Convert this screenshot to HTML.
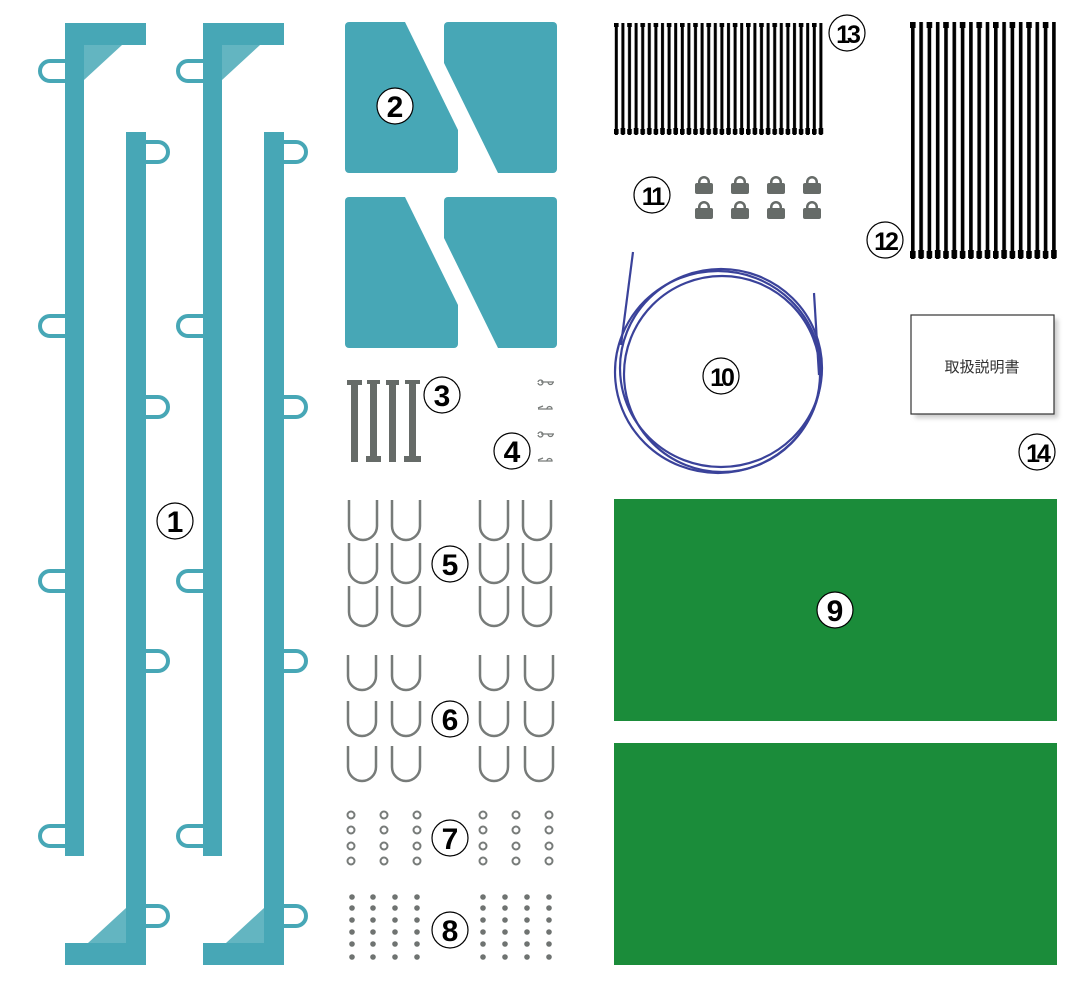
<!DOCTYPE html>
<html><head><meta charset="utf-8"><style>
html,body{margin:0;padding:0;background:#fff;}
svg{display:block;}
.lbl{font-family:"Liberation Sans",sans-serif;font-weight:bold;font-size:30px;text-anchor:middle;}
</style></head><body>
<svg width="1091" height="989" viewBox="0 0 1091 989" xmlns="http://www.w3.org/2000/svg">
<defs>
<g id="rail">
  <rect x="65" y="23" width="19" height="833" fill="#47a7b6"/>
  <rect x="65" y="23" width="81" height="22" fill="#47a7b6"/>
  <polygon points="84,45 122,45 84,80" fill="#63b5c1"/>
  <g fill="none" stroke="#47a7b6" stroke-width="4">
    <path d="M65,61 H50 a10,10 0 0 0 0,20 H65"/>
    <path d="M65,316 H50 a10,10 0 0 0 0,20 H65"/>
    <path d="M65,571 H50 a10,10 0 0 0 0,20 H65"/>
    <path d="M65,826 H50 a10,10 0 0 0 0,20 H65"/>
  </g>
  <rect x="126" y="132" width="20" height="833" fill="#47a7b6"/>
  <rect x="65" y="943" width="81" height="22" fill="#47a7b6"/>
  <polygon points="126,943 88,943 126,908" fill="#63b5c1"/>
  <g fill="none" stroke="#47a7b6" stroke-width="4">
    <path d="M146,142 H158 a10,10 0 0 1 0,20 H146"/>
    <path d="M146,397 H158 a10,10 0 0 1 0,20 H146"/>
    <path d="M146,651 H158 a10,10 0 0 1 0,20 H146"/>
    <path d="M146,906 H158 a10,10 0 0 1 0,20 H146"/>
  </g>
</g>
<g id="plates">
  <path d="M349,22 H405 L458,130 V169 a4,4 0 0 1 -4,4 H349 a4,4 0 0 1 -4,-4 V26 a4,4 0 0 1 4,-4Z" fill="#47a7b6"/>
  <path d="M448,22 H553 a4,4 0 0 1 4,4 V169 a4,4 0 0 1 -4,4 H498 L444,63 V26 a4,4 0 0 1 4,-4Z" fill="#47a7b6"/>
</g>
<g id="lbl"><circle r="18" fill="#fff" stroke="#000" stroke-width="1.2"/></g>
<path id="u5" d="M0,0 V26 a14,14 0 0 0 28,0 V0" fill="none" stroke="#777b79" stroke-width="2.5"/>
<path id="u6" d="M0,0 V21 a14,14 0 0 0 28,0 V0" fill="none" stroke="#777b79" stroke-width="2.5"/>
<g id="lock" fill="#666b68">
  <path d="M3,9 V7 a6,6 0 0 1 12,0 V9 H12.5 V7 a3.5,3.5 0 0 0 -7,0 V9Z"/>
  <rect x="0" y="8" width="18" height="11" rx="2"/>
</g>
<filter id="bl"><feGaussianBlur stdDeviation="2.5"/></filter>
<pattern id="p13" x="614" y="0" width="13.2" height="200" patternUnits="userSpaceOnUse">
  <rect x="0.8" y="23" width="3" height="112"/><rect x="0" y="23" width="4.6" height="4"/><rect x="0" y="129" width="4.6" height="5"/>
  <rect x="7.4" y="23" width="3" height="112"/><rect x="6.6" y="128" width="4.6" height="6"/>
</pattern>
<pattern id="p12" x="910" y="0" width="16.6" height="300" patternUnits="userSpaceOnUse">
  <rect x="1" y="22" width="3.6" height="237"/><rect x="0" y="22" width="5.6" height="6"/><rect x="0" y="251" width="5.6" height="7"/>
  <rect x="9.3" y="22" width="3.6" height="237"/><rect x="8.3" y="250" width="5.6" height="8"/>
</pattern>
</defs>

<use href="#rail"/>
<use href="#rail" x="138"/>

<use href="#plates"/>
<use href="#plates" y="175"/>

<g fill="#666b68">
  <rect x="351" y="380" width="7" height="82"/><rect x="347" y="380" width="15" height="5"/>
  <rect x="370" y="380" width="7" height="82"/><rect x="367" y="380" width="13" height="4"/><rect x="366" y="456" width="15" height="6"/>
  <rect x="389" y="380" width="7" height="82"/><rect x="386" y="380" width="13" height="5"/>
  <rect x="409" y="380" width="7" height="82"/><rect x="405" y="380" width="15" height="4"/><rect x="404" y="456" width="17" height="6"/>
</g>
<g fill="none" stroke="#777b79" stroke-width="1.3">
  <path d="M538,382 a2.5,2.5 0 1 1 0,1 M541,382 H554 M548,382 a2.5,2.5 0 1 0 5,0"/>
  <path d="M538,408 L543,406 M538,409 H552 a2.5,2.5 0 1 0 -5,0"/>
  <path d="M538,434 a2.5,2.5 0 1 1 0,1 M541,434 H554 M548,434 a2.5,2.5 0 1 0 5,0"/>
  <path d="M538,460 L543,458 M538,461 H552 a2.5,2.5 0 1 0 -5,0"/>
</g>

<g>
<use href="#u5" x="349" y="500"/><use href="#u5" x="392" y="500"/><use href="#u5" x="480" y="500"/><use href="#u5" x="523" y="500"/>
<use href="#u5" x="349" y="543"/><use href="#u5" x="392" y="543"/><use href="#u5" x="480" y="543"/><use href="#u5" x="523" y="543"/>
<use href="#u5" x="349" y="586"/><use href="#u5" x="392" y="586"/><use href="#u5" x="480" y="586"/><use href="#u5" x="523" y="586"/>
</g>
<g>
<use href="#u6" x="348" y="655"/><use href="#u6" x="392" y="655"/><use href="#u6" x="480" y="655"/><use href="#u6" x="525" y="655"/>
<use href="#u6" x="348" y="701"/><use href="#u6" x="392" y="701"/><use href="#u6" x="480" y="701"/><use href="#u6" x="525" y="701"/>
<use href="#u6" x="348" y="746"/><use href="#u6" x="392" y="746"/><use href="#u6" x="480" y="746"/><use href="#u6" x="525" y="746"/>
</g>

<g fill="none" stroke="#777b79" stroke-width="2">
<circle cx="351" cy="815" r="3.5"/><circle cx="351" cy="830" r="3.5"/><circle cx="351" cy="846" r="3.5"/><circle cx="351" cy="861" r="3.5"/>
<circle cx="384" cy="815" r="3.5"/><circle cx="384" cy="830" r="3.5"/><circle cx="384" cy="846" r="3.5"/><circle cx="384" cy="861" r="3.5"/>
<circle cx="417" cy="815" r="3.5"/><circle cx="417" cy="830" r="3.5"/><circle cx="417" cy="846" r="3.5"/><circle cx="417" cy="861" r="3.5"/>
<circle cx="483" cy="815" r="3.5"/><circle cx="483" cy="830" r="3.5"/><circle cx="483" cy="846" r="3.5"/><circle cx="483" cy="861" r="3.5"/>
<circle cx="516" cy="815" r="3.5"/><circle cx="516" cy="830" r="3.5"/><circle cx="516" cy="846" r="3.5"/><circle cx="516" cy="861" r="3.5"/>
<circle cx="549" cy="815" r="3.5"/><circle cx="549" cy="830" r="3.5"/><circle cx="549" cy="846" r="3.5"/><circle cx="549" cy="861" r="3.5"/>
</g>

<g fill="#6f7371">
<circle cx="352" cy="897" r="2.8"/><circle cx="352" cy="908" r="2.8"/><circle cx="352" cy="920" r="2.8"/><circle cx="352" cy="932" r="2.8"/><circle cx="352" cy="944" r="2.8"/><circle cx="352" cy="957" r="2.8"/>
<circle cx="373" cy="897" r="2.8"/><circle cx="373" cy="908" r="2.8"/><circle cx="373" cy="920" r="2.8"/><circle cx="373" cy="932" r="2.8"/><circle cx="373" cy="944" r="2.8"/><circle cx="373" cy="957" r="2.8"/>
<circle cx="395" cy="897" r="2.8"/><circle cx="395" cy="908" r="2.8"/><circle cx="395" cy="920" r="2.8"/><circle cx="395" cy="932" r="2.8"/><circle cx="395" cy="944" r="2.8"/><circle cx="395" cy="957" r="2.8"/>
<circle cx="417" cy="897" r="2.8"/><circle cx="417" cy="908" r="2.8"/><circle cx="417" cy="920" r="2.8"/><circle cx="417" cy="932" r="2.8"/><circle cx="417" cy="944" r="2.8"/><circle cx="417" cy="957" r="2.8"/>
<circle cx="483" cy="897" r="2.8"/><circle cx="483" cy="908" r="2.8"/><circle cx="483" cy="920" r="2.8"/><circle cx="483" cy="932" r="2.8"/><circle cx="483" cy="944" r="2.8"/><circle cx="483" cy="957" r="2.8"/>
<circle cx="505" cy="897" r="2.8"/><circle cx="505" cy="908" r="2.8"/><circle cx="505" cy="920" r="2.8"/><circle cx="505" cy="932" r="2.8"/><circle cx="505" cy="944" r="2.8"/><circle cx="505" cy="957" r="2.8"/>
<circle cx="527" cy="897" r="2.8"/><circle cx="527" cy="908" r="2.8"/><circle cx="527" cy="920" r="2.8"/><circle cx="527" cy="932" r="2.8"/><circle cx="527" cy="944" r="2.8"/><circle cx="527" cy="957" r="2.8"/>
<circle cx="549" cy="897" r="2.8"/><circle cx="549" cy="908" r="2.8"/><circle cx="549" cy="920" r="2.8"/><circle cx="549" cy="932" r="2.8"/><circle cx="549" cy="944" r="2.8"/><circle cx="549" cy="957" r="2.8"/>
</g>

<rect x="614" y="20" width="210" height="118" fill="url(#p13)"/>
<rect x="910" y="20" width="148" height="242" fill="url(#p12)"/>

<use href="#lock" x="695" y="175"/><use href="#lock" x="731" y="175"/><use href="#lock" x="767" y="175"/><use href="#lock" x="803" y="175"/>
<use href="#lock" x="695" y="200"/><use href="#lock" x="731" y="200"/><use href="#lock" x="767" y="200"/><use href="#lock" x="803" y="200"/>

<g fill="none" stroke="#3a429a" stroke-width="2.2">
  <ellipse cx="721" cy="368" rx="101" ry="99"/>
  <ellipse cx="718" cy="372" rx="103" ry="101"/>
  <ellipse cx="722" cy="374" rx="98" ry="98"/>
  <path d="M633,252 L621,345"/>
  <path d="M814,293 L819,375"/>
</g>

<rect x="915" y="319" width="143" height="99" fill="#999" opacity="0.5" filter="url(#bl)"/>
<rect x="911" y="315" width="143" height="99" fill="#fff" stroke="#333" stroke-width="1.2"/>
<text x="982" y="372" font-family="'Liberation Sans','Noto Sans CJK JP',sans-serif" font-size="15" text-anchor="middle" fill="#333">取扱説明書</text>

<rect x="614" y="499" width="443" height="222" fill="#1b8c3a"/>
<rect x="614" y="743" width="443" height="222" fill="#1b8c3a"/>

<g class="lbl">
<use href="#lbl" x="175" y="521"/><text x="175" y="532">1</text>
<use href="#lbl" x="395" y="106"/><text x="395" y="117">2</text>
<use href="#lbl" x="442" y="395"/><text x="442" y="406">3</text>
<use href="#lbl" x="512" y="451"/><text x="512" y="462">4</text>
<use href="#lbl" x="450" y="564"/><text x="450" y="575">5</text>
<use href="#lbl" x="450" y="719"/><text x="450" y="730">6</text>
<use href="#lbl" x="450" y="838"/><text x="450" y="849">7</text>
<use href="#lbl" x="450" y="930"/><text x="450" y="941">8</text>
<use href="#lbl" x="835" y="610"/><text x="835" y="621">9</text>
<use href="#lbl" x="721" y="376"/><text x="721" y="386" style="font-size:25px;letter-spacing:-3px">10</text>
<use href="#lbl" x="652" y="195"/><text x="652" y="205" style="font-size:25px;letter-spacing:-3px">11</text>
<use href="#lbl" x="885" y="240"/><text x="885" y="250" style="font-size:25px;letter-spacing:-3px">12</text>
<use href="#lbl" x="847" y="33"/><text x="847" y="43" style="font-size:25px;letter-spacing:-3px">13</text>
<use href="#lbl" x="1037" y="452"/><text x="1037" y="462" style="font-size:25px;letter-spacing:-3px">14</text>
</g>
</svg>
</body></html>
